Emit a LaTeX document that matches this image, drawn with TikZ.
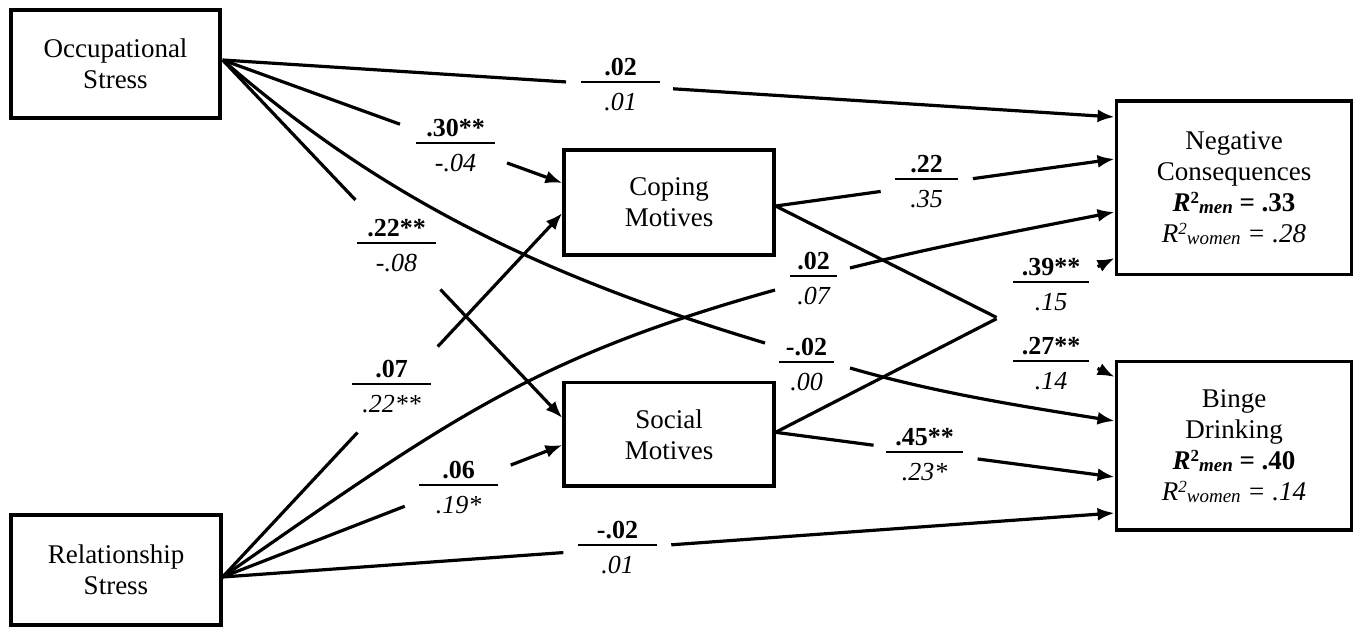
\documentclass[tikz,border=0pt]{standalone}
\usepackage{fontspec}
\setmainfont{Liberation Serif}
\usetikzlibrary{arrows.meta,calc}

\newcommand\frc[3]{\makebox[#3pt]{\makebox[0pt]{\rule[-0.8pt]{#3pt}{1.6pt}}\makebox[0pt]{\raisebox{7pt}{\bfseries #1}}\makebox[0pt]{\raisebox{-28pt}{\itshape #2}}}}
\newcommand\supr[1]{\raisebox{8pt}{\fontsize{17}{17}\selectfont #1}}
\newcommand\subr[1]{\raisebox{-2pt}{\fontsize{19}{19}\selectfont #1}}

\tikzset{
  box/.style={draw, line width=3.2pt, inner sep=0pt, align=center, font=\fontsize{27}{31}\selectfont},
  lab/.style={anchor=base, inner sep=0pt, font=\fontsize{26}{30}\selectfont},
  con/.style={line width=3.2pt},
  arr/.style={con, -{Latex[length=17pt,width=13pt]}},
}

\begin{document}
\begin{tikzpicture}[x=1pt,y=-1pt]
\useasboundingbox (0,0) rectangle (1356,627);

% boxes
\node[box, minimum width=209pt, minimum height=108pt] (occ) at (115.5,64) {Occupational\\Stress};
\node[box, minimum width=210pt, minimum height=110pt] (rel) at (116,570) {Relationship\\Stress};
\node[box, minimum width=210pt, minimum height=105pt] (cop) at (669,202.5) {Coping\\Motives};
\node[box, minimum width=210pt, minimum height=103.5pt] (soc) at (669,434.3) {Social\\Motives};
\node[box, minimum width=235.7pt, minimum height=173.3pt] (neg) at (1234,187.7)
  {Negative\\Consequences\\\textbf{\textit{R}\supr{2}\subr{\textit{men}} = .33}\\\textit{R\supr{2}\subr{women} = .28}};
\node[box, minimum width=235.7pt, minimum height=168.3pt] (bin) at (1234,445.8)
  {Binge\\Drinking\\\textbf{\textit{R}\supr{2}\subr{\textit{men}} = .40}\\\textit{R\supr{2}\subr{women} = .14}};

% ports
\coordinate (oS) at ($(occ.east)+(1,-4)$);
\coordinate (rS) at ($(rel.east)+(0,7)$);
\coordinate (cS) at ($(cop.east)+(0,3.5)$);
\coordinate (sS) at ($(soc.east)+(0,-2)$);
\coordinate (cA) at ($(cop.west)+(0,-19.5)$);
\coordinate (cB) at ($(cop.west)+(0,10.5)$);
\coordinate (sA) at ($(soc.west)+(0,-16.3)$);
\coordinate (sB) at ($(soc.west)+(0,10.7)$);
\coordinate (nA) at ($(neg.west)+(0,-70.7)$);
\coordinate (nB) at ($(neg.west)+(0,-28.7)$);
\coordinate (nC) at ($(neg.west)+(0,24.3)$);
\coordinate (nD) at ($(neg.west)+(0,70.3)$);
\coordinate (bA) at ($(bin.west)+(0,-68.8)$);
\coordinate (bB) at ($(bin.west)+(0,-24.8)$);
\coordinate (bC) at ($(bin.west)+(0,31.2)$);
\coordinate (bD) at ($(bin.west)+(0,67.2)$);
\coordinate (ob1) at (765,343);
\coordinate (ob2) at (850,368);
\coordinate (rn1) at (775,290);
\coordinate (rn2) at (850,268);

% labels
\node[lab] (l1) at (620.5,82) {\frc{.02}{.01}{79}};
\node[lab] (l2) at (455.5,143) {\frc{.30**}{-.04}{79}};
\node[lab] (l3) at (396.5,243) {\frc{.22**}{-.08}{79}};
\node[lab] (l4) at (391.5,384) {\frc{.07}{.22**}{79}};
\node[lab] (l5) at (458.5,485) {\frc{.06}{.19*}{79}};
\node[lab] (l6) at (617.5,545) {\frc{-.02}{.01}{79}};
\node[lab] (l7) at (806.5,362) {\frc{-.02}{.00}{55}};
\node[lab] (l8) at (813.5,276) {\frc{.02}{.07}{47}};
\node[lab] (l9) at (926.5,179) {\frc{.22}{.35}{63}};
\node[lab] (l10) at (1051,282) {\frc{.39**}{.15}{76}};
\node[lab] (l11) at (1051,361) {\frc{.27**}{.14}{76}};
\node[lab] (l12) at (924.5,452) {\frc{.45**}{.23*}{77}};

% Occupational stress paths
\draw[con] (oS) -- ($(oS)!0.385!(nA)$);
\draw[arr] ($(oS)!0.505!(nA)$) -- (nA);
\draw[con] (oS) -- ($(oS)!0.522!(cA)$);
\draw[arr] ($(oS)!0.837!(cA)$) -- (cA);
\draw[con] (oS) -- ($(oS)!0.391!(sA)$);
\draw[arr] ($(oS)!0.641!(sA)$) -- (sA);
\draw[con] (oS) .. controls (373,190) and (525,271) .. (ob1);
\draw[arr] (ob2) .. controls (934.5,392.6) and (1026,407) .. (bB);

% Relationship stress paths
\draw[con] (rS) -- ($(rS)!0.397!(cB)$);
\draw[arr] ($(rS)!0.633!(cB)$) -- (cB);
\draw[con] (rS) -- ($(rS)!0.536!(sB)$);
\draw[arr] ($(rS)!0.848!(sB)$) -- (sB);
\draw[con] (rS) -- ($(rS)!0.382!(bD)$);
\draw[arr] ($(rS)!0.503!(bD)$) -- (bD);
\draw[con] (rS) .. controls (451,418) and (534,357.5) .. (rn1);
\draw[arr] (rn2) .. controls (935,246.6) and (1026.8,229.2) .. (nC);

% Coping motives paths
\draw[con] (cS) -- ($(cS)!0.31!(nB)$);
\draw[arr] ($(cS)!0.582!(nB)$) -- (nB);
\draw[con] (cS) -- ($(cS)!0.652!(bA)$);
\draw[arr] ($(cS)!0.95!(bA)$) -- (bA);

% Social motives paths
\draw[con] (sS) -- ($(sS)!0.652!(nD)$);
\draw[arr] ($(sS)!0.95!(nD)$) -- (nD);
\draw[con] (sS) -- ($(sS)!0.289!(bC)$);
\draw[arr] ($(sS)!0.596!(bC)$) -- (bC);
\end{tikzpicture}
\end{document}
